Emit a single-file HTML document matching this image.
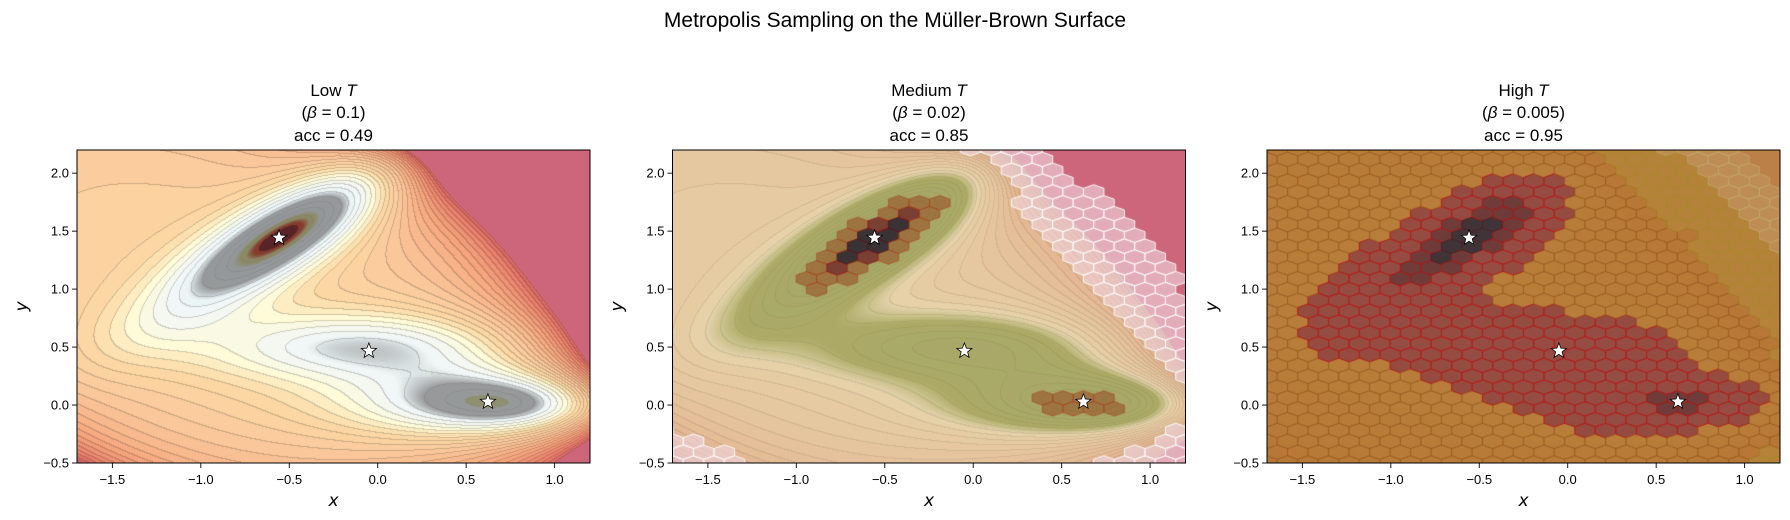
<!DOCTYPE html>
<html><head><meta charset="utf-8">
<style>
html,body{margin:0;padding:0;background:#fff;}
#root{position:relative;width:1790px;height:520px;overflow:hidden;font-family:"Liberation Sans","DejaVu Sans",sans-serif;color:#000;}
canvas{position:absolute;}
svg{position:absolute;left:0;top:0;}
</style></head>
<body>
<div id="root">
<svg id="svg" width="1790" height="520"></svg>
</div>
<script>
// Müller-Brown potential parameters
const pA=[-200,-100,-170,15];
const pa=[-1,-1,-6.5,0.7];
const pb=[0,0,11,0.6];
const pc=[-10,-10,-6.5,0.7];
const pX0=[1,0,-0.5,-1];
const pY0=[0,0.5,1.5,1];
// minima (stars)
const minX=[-0.558,0.623,-0.050];
const minY=[1.442,0.028,0.467];
// panels
const panelNames=["Low","Medium","High"];
const betaLabels=["0.1","0.02","0.005"];
const accLabels=["0.49","0.85","0.95"];
const xTicks=[-1.5,-1.0,-0.5,0.0,0.5,1.0];
const yTicks=[-0.5,0.0,0.5,1.0,1.5,2.0];
const xDomain=[-1.7,1.2];
const yDomain=[-0.5,2.2];

const PL=[77,672.5,1267], PT=150, PW=513, PH=313;
function V(x,y){let s=0;for(let k=0;k<4;k++){const dx=x-pX0[k],dy=y-pY0[k];s+=pA[k]*Math.exp(pa[k]*dx*dx+pb[k]*dx*dy+pc[k]*dy*dy);}return s;}
function sx(x){return (x-xDomain[0])/(xDomain[1]-xDomain[0])*PW;}
function sy(y){return PH-(y-yDomain[0])/(yDomain[1]-yDomain[0])*PH;}
function ix(p){return xDomain[0]+p/PW*(xDomain[1]-xDomain[0]);}
function iy(p){return yDomain[0]+(PH-p)/PH*(yDomain[1]-yDomain[0]);}
const baseStops=[[-150,205,228,240],[-100,228,242,246],[-60,243,248,246],[-30,255,250,215],[0,252,218,165],[40,250,200,155],[100,245,165,125],[150,236,128,108],[180,215,100,100]];
function interp(stops,v){if(v<=stops[0][0])return stops[0].slice(1);for(let i=1;i<stops.length;i++){if(v<=stops[i][0]){const t=(v-stops[i-1][0])/(stops[i][0]-stops[i-1][0]);return stops[i].slice(1).map((c,j)=>stops[i-1][j+1]+(c-stops[i-1][j+1])*t);}}return stops[stops.length-1].slice(1);}
function clamp(v){return Math.max(0,Math.min(1,v));}
const root=document.getElementById('root');
const svg=document.getElementById('svg');
const NS="http://www.w3.org/2000/svg";
function mk(tag,attrs,parent){const e=document.createElementNS(NS,tag);for(const k in attrs)e.setAttribute(k,attrs[k]);(parent||svg).appendChild(e);return e;}

for(let p=0;p<3;p++){
  const cv=document.createElement('canvas');
  cv.width=PW;cv.height=PH;cv.style.left=PL[p]+'px';cv.style.top=PT+'px';
  
  
  root.insertBefore(cv,svg);
  const ctx=cv.getContext('2d');
  const img=ctx.createImageData(PW,PH);
  const lev=new Int16Array(PW*PH);const vals=new Float32Array(PW*PH);
  for(let j=0;j<PH;j++)for(let i=0;i<PW;i++){const v=V(ix(i+0.5),iy(j+0.5));vals[j*PW+i]=v;lev[j*PW+i]=Math.floor(Math.min(v,181)/12);}
  for(let j=0;j<PH;j++)for(let i=0;i<PW;i++){
    const k=j*PW+i;const v=vals[k];const y=iy(j);
    let col;
    if(v>180)col=[205,102,122];
    else{col=interp(baseStops,Math.floor(v/12)*12+6);
      const edge=(i<PW-1&&lev[k+1]!==lev[k])||(j<PH-1&&lev[k+PW]!==lev[k]);
      if(edge&&p<2)col=col.map(c=>c*0.82);}
    if(p===0&&v<=180){
      const vc=y>0.8?-80:-68;let al=0.78*clamp((vc-v)/16);
      if(y<=0.8&&y>0.25&&ix(i)<0.3)al*=0.7;
      col=col.map(c=>c*(1-al)+128*al);
      if(v<-125){const t=0.45*clamp((-125-v)/6);col=[col[0]*(1-t)+130*t,col[1]*(1-t)+120*t,col[2]*(1-t)+40*t];}
      if(v<-135){const t=0.7*clamp((-135-v)/5);col=[col[0]*(1-t)+130*t,col[1]*(1-t)+25*t,col[2]*(1-t)+20*t];}
      if(v<-142){const t=0.6;col=[col[0]*(1-t)+60*t,col[1]*(1-t)+20*t,col[2]*(1-t)+35*t];}
      if(v<-104&&y<0.3){const t=0.35;col=[col[0]*(1-t)+130*t,col[1]*(1-t)+125*t,col[2]*(1-t)+40*t];}
    }
    if(p===1&&v<=180){
      col=col.map((c,q)=>c*0.55+[248,225,185][q]*0.45);
      col=col.map((c,q)=>c*0.82+[140,135,115][q]*0.18);
      const al=0.62*clamp((-10-v)/30);
      col=col.map((c,q)=>c*(1-al)+[135,138,45][q]*al);
    }
    if(p===2){ col=col.map((c,q)=>c*0.3+[200,150,60][q]*0.7); }
    img.data[k*4]=col[0];img.data[k*4+1]=col[1];img.data[k*4+2]=col[2];img.data[k*4+3]=255;
  }
  ctx.putImageData(img,0,0);
  // hexbin overlay
  if(p>0){
    const nx=25;const hx=PW/nx, hy=PH*Math.sqrt(3)/nx;
    const drawHex=(cx,cy)=>{
      const v=V(ix(cx),iy(cy));let fill=null,stroke=null;
      if(p===1){
        if(v>95&&v<420){fill='rgba(240,215,225,0.62)';stroke='rgba(255,255,255,0.9)';}
        else if(v<-137){fill='rgba(40,30,45,0.85)';stroke='rgba(90,20,30,0.8)';}
        else if(v<-122){fill='rgba(110,30,35,0.75)';stroke='rgba(150,20,20,0.7)';}
        else if(v<-92){fill='rgba(150,75,35,0.55)';stroke='rgba(170,60,20,0.5)';}
      } else {
        if(v>2500)return;
        if(v<-133){fill='rgba(50,40,55,0.9)';stroke='rgba(80,30,40,0.8)';}
        else if(v<-100){fill='rgba(105,45,55,0.88)';stroke='rgba(190,20,20,0.8)';}
        else if(v<-10){fill='rgba(150,62,65,0.85)';stroke='rgba(200,20,20,0.8)';}
        else if(v<200){fill='rgba(195,125,55,0.8)';stroke='rgba(160,90,30,0.6)';}
        else if(v<700){fill='rgba(192,142,58,0.75)';stroke='rgba(180,150,40,0.6)';}
        else {fill='rgba(205,160,100,0.7)';stroke='rgba(215,190,120,0.6)';}
      }
      if(!fill)return;
      ctx.beginPath();
      const pts=[[.5,-.5],[.5,.5],[0,1],[-.5,.5],[-.5,-.5],[0,-1]];
      pts.forEach((q,n)=>{const X=cx+q[0]*hx,Y=cy+q[1]*hy/3;n?ctx.lineTo(X,Y):ctx.moveTo(X,Y);});
      ctx.closePath();ctx.fillStyle=fill;ctx.fill();ctx.strokeStyle=stroke;ctx.lineWidth=1;ctx.stroke();
    };
    for(let j=-1;j<=PH/hy+1;j++)for(let i=-1;i<=nx+1;i++){drawHex(i*hx,PH-j*hy);drawHex((i+.5)*hx,PH-(j+.5)*hy);}
    if(p===2){ctx.fillStyle='rgba(60,50,20,0.1)';ctx.fillRect(0,0,PW,PH);}
  }
  // axes frame, ticks, stars (SVG)
  const g=mk('g',{transform:`translate(${PL[p]},${PT})`,});
  for(let s=0;s<3;s++){
    const cx=sx(minX[s]),cy=sy(minY[s]);const R=8,r=3.4;let d='';
    for(let n=0;n<10;n++){const ang=-Math.PI/2+n*Math.PI/5;const rr=n%2?r:R;d+=(n?'L':'M')+(cx+rr*Math.cos(ang)).toFixed(2)+' '+(cy+rr*Math.sin(ang)).toFixed(2);}
    const st=mk('path',{d:d+'Z',fill:'#fff',stroke:'#000','stroke-width':0.8},g);
    
    
  }
  mk('rect',{x:0,y:0,width:PW,height:PH,fill:'none',stroke:'#000','stroke-width':1,},g);
  xTicks.forEach(t=>{const X=sx(t);mk('line',{x1:X,x2:X,y1:PH,y2:PH+5,stroke:'#000','stroke-width':0.9},g);
    const tx=mk('text',{x:X,y:PH+21,'text-anchor':'middle','font-size':13},g);tx.textContent=(t<0?'\u2212':'')+Math.abs(t).toFixed(1);
    });
  yTicks.forEach(t=>{const Y=sy(t);mk('line',{x1:-5,x2:0,y1:Y,y2:Y,stroke:'#000','stroke-width':0.9},g);
    const tx=mk('text',{x:-8,y:Y+4.5,'text-anchor':'end','font-size':13},g);tx.textContent=(t<0?'\u2212':'')+Math.abs(t).toFixed(1);
    });
  const xl=mk('text',{x:PW/2,y:PH+43,'text-anchor':'middle','font-size':17,'font-style':'italic','font-family':'DejaVu Sans, sans-serif'},g);xl.textContent='x';
  
  const yl=mk('text',{x:0,y:0,'text-anchor':'middle','font-size':17,'font-style':'italic','font-family':'DejaVu Sans, sans-serif',transform:`translate(-50,${PH/2}) rotate(-90)`},g);yl.textContent='y';
  
  const t1=mk('text',{x:PW/2,y:-54,'text-anchor':'middle','font-size':17},g);
  t1.innerHTML=panelNames[p]+' <tspan font-style="italic">T</tspan>';
  
  const t2=mk('text',{x:PW/2,y:-32,'text-anchor':'middle','font-size':17},g);
  t2.innerHTML='(<tspan font-style="italic">β</tspan> = '+betaLabels[p]+')';
  
  const t3=mk('text',{x:PW/2,y:-9,'text-anchor':'middle','font-size':17},g);
  t3.textContent='acc = '+accLabels[p];
  
}
const title=mk('text',{x:895,y:27,'text-anchor':'middle','font-size':21});
title.textContent='Metropolis Sampling on the Müller-Brown Surface';


</script>
</body></html>
